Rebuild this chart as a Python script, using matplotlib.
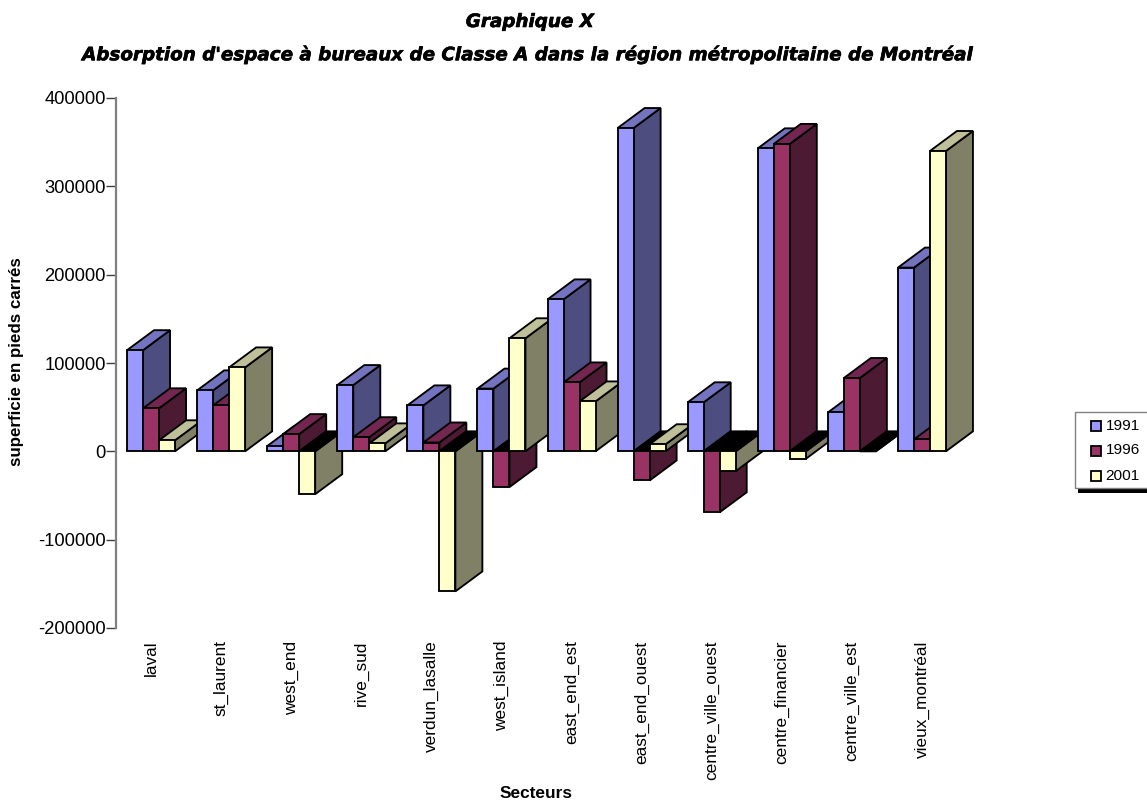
import matplotlib
matplotlib.use('Agg')
import matplotlib.pyplot as plt
import matplotlib.patheffects as pe
from matplotlib.patches import Polygon, Rectangle

plt.rcParams['font.family'] = ['Liberation Sans', 'DejaVu Sans']

secteurs = ['laval', 'st_laurent', 'west_end', 'rive_sud', 'verdun_lasalle', 'west_island',
            'east_end_est', 'east_end_ouest', 'centre_ville_ouest', 'centre_financier',
            'centre_ville_est', 'vieux_montréal']
annees = ['1991', '1996', '2001']
val_1991 = [114500, 69000, 6000, 75000, 52000, 71000, 172000, 366000, 55500, 343000, 44000, 208000]
val_1996 = [48700, 52000, 19500, 16000, 10000, -40500, 78000, -33000, -69000, 348000, 83000, 13500]
val_2001 = [12500, 95000, -48500, 9000, -158600, 128000, 56500, 8000, -22500, -8500, 0, 340000]
yticks = [-200000, -100000, 0, 100000, 200000, 300000, 400000]

# front, side and top colours for each series
couleurs = [('#9999FF', '#4D4D80', '#7373BF'),
            ('#993366', '#4D1A33', '#732650'),
            ('#FFFFCC', '#808066', '#BFBF99')]

W, H = 1147, 800
fig = plt.figure(figsize=(W / 100, H / 100), dpi=100)
ax = fig.add_axes([116 / W, 1 - 628 / H, 841 / W, 530 / H])
ax.set_xlim(-0.5, 11.5)
ax.set_ylim(-200000, 400000)

bar_w = 16 / 70.1
depth_x = 27 / 70.1
depth_y = 20 / 530 * 600000
edge = 1.35


def draw_bar(x, val, cols):
    # the top face goes black when the bar hangs below zero
    front, side, top = cols
    top_col = 'black' if val <= 0 else top
    upper = max(val, 0)
    ax.add_patch(Polygon([(x + bar_w, 0), (x + bar_w + depth_x, depth_y),
                          (x + bar_w + depth_x, val + depth_y), (x + bar_w, val)],
                         fc=side, ec='black', lw=edge, clip_on=False))
    ax.add_patch(Polygon([(x, upper), (x + depth_x, upper + depth_y),
                          (x + bar_w + depth_x, upper + depth_y), (x + bar_w, upper)],
                         fc=top_col, ec='black', lw=edge, clip_on=False))
    ax.add_patch(Rectangle((x, 0), bar_w, val, fc=front, ec='black', lw=edge, clip_on=False))


series = [val_1991, val_1996, val_2001]
for i in range(len(secteurs)):
    for s in range(3):
        x = i - 1.5 * bar_w + s * bar_w
        draw_bar(x, series[s][i], couleurs[s])

for name in ['top', 'right', 'bottom']:
    ax.spines[name].set_visible(False)
ax.spines['left'].set_color('#808080')
ax.spines['left'].set_linewidth(1.6)

ax.set_yticks(yticks)
ax.set_yticklabels([str(v) for v in yticks], fontsize=13.2)
ax.tick_params(axis='y', length=7, width=1, color='#404040', pad=0.3)
ax.set_xticks(range(len(secteurs)))
ax.set_xticklabels(secteurs, rotation=90, fontsize=12.4)
ax.tick_params(axis='x', length=0, pad=9)

fig.text(17 / W, 1 - 362 / H, 'superficie en pieds carrés', rotation=90, fontsize=12.2,
         fontweight='bold', ha='center', va='center')
fig.text(536 / W, 1 - 793.5 / H, 'Secteurs', fontsize=12.4, fontweight='bold', ha='center', va='center')

# titles get a thin outline to thicken the heavy italic letters
heavy = [pe.withStroke(linewidth=0.45, foreground='black')]
fig.text(530 / W, 1 - 22 / H, 'Graphique X', fontsize=13.2, fontweight='bold', fontstyle='italic',
         family='DejaVu Sans', ha='center', va='center', path_effects=heavy)
fig.text(528.5 / W, 1 - 55 / H, "Absorption d'espace à bureaux de Classe A dans la région métropolitaine de Montréal",
         fontsize=13.2, fontweight='bold', fontstyle='italic', family='DejaVu Sans', ha='center', va='center',
         path_effects=heavy)

# legend box with its heavy shadow along the bottom
fig.add_artist(Rectangle((1078 / W, 1 - 493 / H), 69 / W, 6 / H, fc='black', ec='none',
                         transform=fig.transFigure))
fig.add_artist(Rectangle((1075 / W, 1 - 488 / H), 80 / W, 76 / H, fc='white', ec='#808080', lw=1,
                         transform=fig.transFigure))
for k, annee in enumerate(annees):
    yc = 425.5 + k * 25
    fig.add_artist(Rectangle((1090.5 / W, 1 - (yc + 5) / H), 10 / W, 10 / H, fc=couleurs[k][0], ec='black',
                             lw=1.3, transform=fig.transFigure))
    fig.text(1105.5 / W, 1 - yc / H, annee, fontsize=11.1, ha='left', va='center')

fig.savefig('out.png', dpi=100)
